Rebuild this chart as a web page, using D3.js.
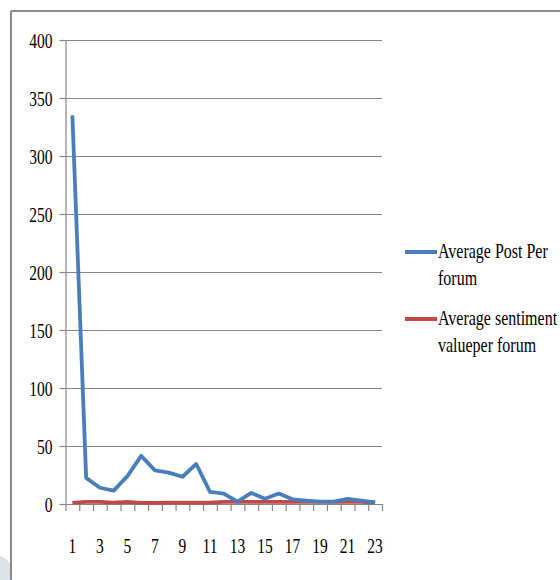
<!DOCTYPE html>
<html>
<head>
<meta charset="utf-8">
<script src="https://cdn.jsdelivr.net/npm/d3@7"></script>
<style>
  body { margin: 0; background: #fff; }
  text { font-family: "Liberation Serif", "DejaVu Serif", serif; fill: #000; }
</style>
</head>
<body>
<div id="chart"></div>
<script>
// data
const forums = d3.range(1, 24);
const avgPosts = [335, 22.5, 14, 11.5, 24, 41.5, 29, 27, 23.5, 34.5, 10.5, 9, 2, 9.5, 4.5, 9, 4, 3, 2, 2, 4.5, 3, 1.5];
const avgSentiment = [1, 1.8, 1.8, 1.2, 1.8, 1, 1, 1.2, 1.2, 1.2, 1.2, 1.8, 1.8, 1.8, 1.8, 1.8, 1.8, 1.8, 1.8, 1.8, 1.8, 1.8, 1.2];
const yTicks = [0, 50, 100, 150, 200, 250, 300, 350, 400];
const xLabels = forums.filter(d => d % 2 === 1);
const series = [
  { name: ["Average Post Per", "forum"], values: avgPosts, color: "#4a7ebb" },
  { name: ["Average sentiment", "valueper forum"], values: avgSentiment, color: "#be4b48" }
];

const W = 560, H = 580;
const plot = { left: 65.5, right: 382, top: 40, bottom: 504 };
const sx = 0.74; // glyphs in the picture are squeezed sideways

const svg = d3.select("#chart").append("svg")
  .attr("width", W).attr("height", H);

// slide frame + corner decoration
svg.append("path")
  .attr("d", "M0,556 Q14,560 12,580 L0,580 Z")
  .attr("fill", "#dde2e8");
svg.append("line").attr("x1", 11).attr("y1", 11).attr("x2", W).attr("y2", 11)
  .attr("stroke", "#8a8a8a").attr("stroke-width", 2);
svg.append("line").attr("x1", 11).attr("y1", 11).attr("x2", 11).attr("y2", H)
  .attr("stroke", "#8a8a8a").attr("stroke-width", 2);

const x = d3.scaleBand().domain(forums).range([plot.left, plot.right]).padding(0);
const xEdge = d3.scaleLinear().domain([0, forums.length]).range([plot.left, plot.right]);
const y = d3.scaleLinear().domain([0, 400]).range([plot.bottom, plot.top]);

// gridlines
svg.append("g")
  .attr("transform", `translate(${plot.left},0)`)
  .call(d3.axisLeft(y).tickValues(yTicks).tickSize(-(plot.right - plot.left)).tickFormat(""))
  .call(g => g.select(".domain").remove())
  .call(g => g.selectAll("line").attr("stroke", "#868686").attr("stroke-width", 1.2));

// y axis
const yAxis = svg.append("g")
  .attr("transform", `translate(${plot.left},0)`)
  .call(d3.axisLeft(y).tickValues(yTicks).tickSize(6).tickPadding(0).tickSizeOuter(0));
yAxis.select(".domain").attr("stroke", "#868686").attr("stroke-width", 1.2);
yAxis.selectAll(".tick line").attr("stroke", "#868686").attr("stroke-width", 1.2);
yAxis.selectAll(".tick text")
  .attr("x", null).attr("dy", null)
  .attr("transform", `translate(-13,7) scale(${sx},1)`)
  .style("font-size", "21px");

// x axis: tick marks at band edges
const xAxis = svg.append("g")
  .attr("transform", `translate(0,${plot.bottom})`)
  .call(d3.axisBottom(xEdge).tickValues(d3.range(0, forums.length + 1)).tickSize(7).tickFormat("").tickSizeOuter(0));
xAxis.select(".domain").attr("stroke", "#868686").attr("stroke-width", 1.2);
xAxis.selectAll(".tick line").attr("stroke", "#868686").attr("stroke-width", 1.2);

svg.append("g").selectAll("text")
  .data(xLabels)
  .join("text")
  .attr("transform", d => `translate(${x(d) + x.bandwidth() / 2},553) scale(${sx},1)`)
  .attr("text-anchor", "middle")
  .style("font-size", "21px")
  .text(d => d);

// lines
const line = d3.line()
  .x((d, i) => x(forums[i]) + x.bandwidth() / 2)
  .y(d => y(d));

svg.selectAll(".series")
  .data(series.slice().reverse())
  .join("path")
  .attr("class", "series")
  .attr("d", d => line(d.values))
  .attr("fill", "none")
  .attr("stroke", d => d.color)
  .attr("stroke-width", 3.8)
  .attr("stroke-linejoin", "round");

// legend
const legendY = [252, 319];
const legend = svg.append("g").selectAll("g")
  .data(series)
  .join("g")
  .attr("transform", (d, i) => `translate(405,${legendY[i]})`);

legend.append("line")
  .attr("x1", 0).attr("x2", 32)
  .attr("stroke", d => d.color)
  .attr("stroke-width", 4);

legend.each(function(d) {
  const g = d3.select(this);
  d.name.forEach((t, j) => {
    g.append("text")
      .attr("transform", `translate(33,${6 + j * 27}) scale(0.78,1)`)
      .style("font-size", "20.5px")
      .text(t);
  });
});
</script>
</body>
</html>
